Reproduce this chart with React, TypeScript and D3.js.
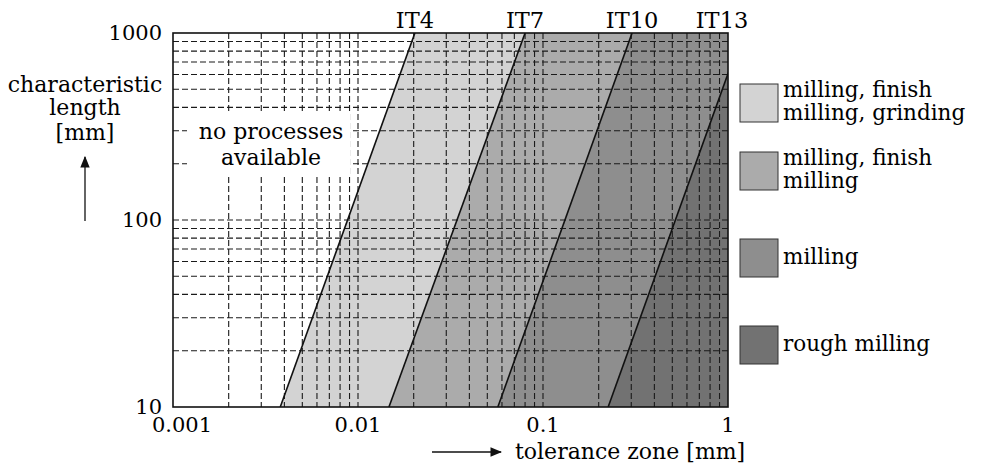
import * as d3 from "d3";

// axis ticks
const xTicks = [0.001, 0.01, 0.1, 1];
const xTickLabels = ["0.001", "0.01", "0.1", "1"];
const yTicks = [10, 100, 1000];
const yTickLabels = ["10", "100", "1000"];

// tolerance grade boundaries: tolerance [mm] at L = 10 mm and L = 1000 mm
const itGrades = ["IT4", "IT7", "IT10", "IT13"];
const tolAt10 = [0.0038, 0.0147, 0.057, 0.225];
const tolAt1000 = [0.0203, 0.08, 0.303, 1.2];

// zones to the right of each boundary
const zoneFills = ["#d3d3d3", "#ababab", "#8e8e8e", "#727272"];
const legendLabels = [
  ["milling, finish", "milling, grinding"],
  ["milling, finish", "milling"],
  ["milling"],
  ["rough milling"],
];

const W = 984;
const H = 469;
const FONT = "'DejaVu Serif', serif";

export default function App() {
  const x = d3.scaleLog().domain([0.001, 1]).range([173, 728]);
  const y = d3.scaleLog().domain([10, 1000]).range([407, 33]);
  const [x0, x1] = x.range();
  const [y0, y1] = y.range();

  // minor + major log grid
  const xGrid: number[] = [];
  [0.001, 0.01, 0.1].forEach((d) => {
    for (let k = 1; k < 10; k++) if (!(d === 0.001 && k === 1)) xGrid.push(d * k);
  });
  const yGrid: number[] = [];
  [10, 100].forEach((d) => {
    for (let k = 1; k < 10; k++) if (!(d === 10 && k === 1)) yGrid.push(d * k);
  });

  const line = d3.line<[number, number]>().x((d) => x(d[0])).y((d) => y(d[1]));

  const zones = itGrades.map((_, i) => {
    const right10 = i < itGrades.length - 1 ? tolAt10[i + 1] : 5;
    const right1000 = i < itGrades.length - 1 ? tolAt1000[i + 1] : 5;
    const pts: [number, number][] = [
      [tolAt10[i], 10],
      [tolAt1000[i], 1000],
      [right1000, 1000],
      [right10, 10],
    ];
    return line(pts) + "Z";
  });

  const legendTops = legendLabels.map((_, i) => (i === 0 ? 84 : 152 + (i - 1) * 87));

  return (
    <svg
      width={W}
      height={H}
      style={{ position: "absolute", left: 0, top: 0, background: "#fff" }}
      fontFamily={FONT}
    >
      <defs>
        <clipPath id="plotClip">
          <rect x={x0} y={y1} width={x1 - x0} height={y0 - y1} />
        </clipPath>
        <marker id="arrow" viewBox="0 0 10 10" refX="9" refY="5" markerWidth="9" markerHeight="9" orient="auto">
          <path d="M0,1 L10,5 L0,9 Z" fill="#111" />
        </marker>
      </defs>

      <g clipPath="url(#plotClip)">
        <rect x={x0} y={y1} width={x1 - x0} height={y0 - y1} fill="#fff" />
        {zones.map((d, i) => (
          <path key={i} d={d} fill={zoneFills[i]} />
        ))}
        {xGrid.map((v) => (
          <line key={"gx" + v} x1={x(v)} x2={x(v)} y1={y1} y2={y0} stroke="#1a1a1a" strokeWidth={1.1} strokeDasharray="6,3" />
        ))}
        {yGrid.map((v) => (
          <line key={"gy" + v} x1={x0} x2={x1} y1={y(v)} y2={y(v)} stroke="#1a1a1a" strokeWidth={1.1} strokeDasharray="6,3" />
        ))}
        <rect x={187} y={112} width={163} height={64} fill="#fff" />
        {itGrades.map((g, i) => (
          <path
            key={g}
            d={line([
              [tolAt10[i], 10],
              [tolAt1000[i], 1000],
            ]) as string}
            stroke="#111"
            strokeWidth={1.6}
            fill="none"
          />
        ))}
      </g>
      <rect x={x0} y={y1} width={x1 - x0} height={y0 - y1} fill="none" stroke="#111" strokeWidth={1.6} />

      <text x={271} y={139} textAnchor="middle" fontSize={22}>no processes</text>
      <text x={271} y={165} textAnchor="middle" fontSize={22}>available</text>

      {/* grade labels above the top end of each boundary */}
      {itGrades.map((g, i) => (
        <text key={g} x={Math.min(x(tolAt1000[i]), x1 - 6)} y={28} textAnchor="middle" fontSize={22.5}>
          {g}
        </text>
      ))}

      {xTicks.map((v, i) => (
        <text key={"tx" + v} x={x(v) + (i === 0 ? 9 : 0)} y={432} textAnchor="middle" fontSize={21}>
          {xTickLabels[i]}
        </text>
      ))}
      {yTicks.map((v, i) => (
        <text key={"ty" + v} x={162} y={y(v) + 7} textAnchor="end" fontSize={21}>
          {yTickLabels[i]}
        </text>
      ))}

      <text x={85} y={92} textAnchor="middle" fontSize={22}>characteristic</text>
      <text x={85} y={115} textAnchor="middle" fontSize={22}>length</text>
      <text x={85} y={140} textAnchor="middle" fontSize={22}>[mm]</text>
      <line x1={85} y1={221} x2={85} y2={157} stroke="#111" strokeWidth={1.3} markerEnd="url(#arrow)" />

      <line x1={432} y1={452} x2={501} y2={452} stroke="#111" strokeWidth={1.3} markerEnd="url(#arrow)" />
      <text x={515} y={459} fontSize={22}>tolerance zone [mm]</text>

      {legendLabels.map((lines, i) => {
        const top = legendTops[i];
        return (
          <g key={i}>
            <rect x={740} y={top} width={38} height={38} fill={zoneFills[i]} stroke="#333" strokeWidth={1} />
            {lines.map((t, j) => (
              <text
                key={j}
                x={783}
                y={lines.length === 1 ? top + 25 : top + 13 + j * 23}
                fontSize={21.5}
              >
                {t}
              </text>
            ))}
          </g>
        );
      })}
    </svg>
  );
}
